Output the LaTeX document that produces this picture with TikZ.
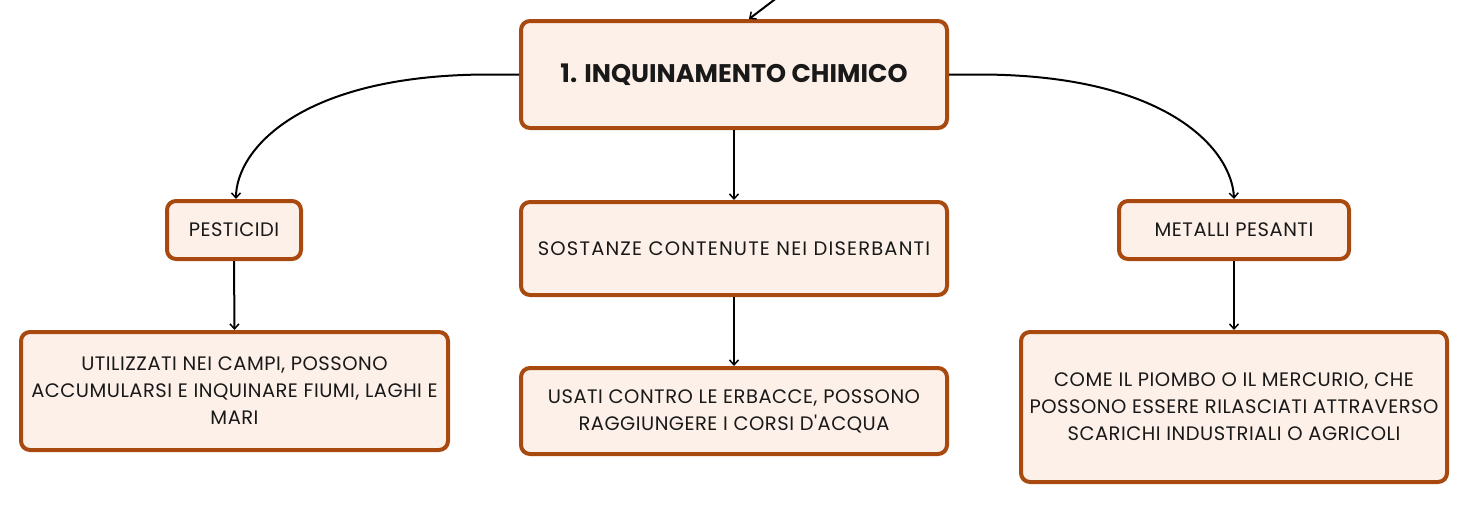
\documentclass[tikz,border=0pt]{standalone}
\usepackage{fontspec}
\setmainfont{Poppins}[Ligatures=TeXOff]
\usetikzlibrary{arrows.meta}
\definecolor{brd}{RGB}{168,74,16}
\definecolor{bg}{RGB}{253,240,232}
\tikzset{
  box/.style={draw=brd, fill=bg, line width=4pt, rounded corners=9pt, align=center, inner sep=0pt,
    font=\fontsize{19.5}{27}\selectfont\addfontfeature{LetterSpace=2.5}, text=black!90},
  conn/.style={line width=2pt, -{Straight Barb[length=5pt,width=9pt,line width=1.5pt]}}
}
\begin{document}
\begin{tikzpicture}[x=1pt,y=-1pt]
\useasboundingbox (0,0) rectangle (1470,504);
\node[box, minimum width=426pt, minimum height=107pt, font=\fontsize{25.5}{27}\selectfont\bfseries] (top) at (734,74.5) {1. INQUINAMENTO CHIMICO};
\node[box, minimum width=134pt, minimum height=58pt] (pest) at (234,230) {PESTICIDI};
\node[box, minimum width=426pt, minimum height=93pt, font=\fontsize{19.5}{27}\selectfont\addfontfeature{LetterSpace=6}] (sost) at (734,248.5) {SOSTANZE CONTENUTE NEI DISERBANTI};
\node[box, minimum width=230pt, minimum height=58pt] (metal) at (1234,230) {METALLI PESANTI};
\node[box, minimum width=427pt, minimum height=118pt] (util) at (234.5,391) {UTILIZZATI NEI CAMPI, POSSONO\\ACCUMULARSI E INQUINARE FIUMI, LAGHI E\\MARI};
\node[box, minimum width=426pt, minimum height=86pt] (usati) at (734,411) {USATI CONTRO LE ERBACCE, POSSONO\\RAGGIUNGERE I CORSI D'ACQUA};
\node[box, minimum width=426pt, minimum height=150pt] (come) at (1234,407) {COME IL PIOMBO O IL MERCURIO, CHE\\POSSONO ESSERE RILASCIATI ATTRAVERSO\\SCARICHI INDUSTRIALI O AGRICOLI};
\coordinate (src) at (778,-3);
\draw[conn] (src) -- ([xshift=15pt]top.north);
\draw[conn] (top.west) -- ++(-30,0) .. controls (300,74.5) and (236,150) .. ([xshift=2pt]pest.north);
\draw[conn] (top.east) -- ++(30,0) .. controls (1168,74.5) and (1232,150) .. (metal.north);
\draw[conn] (top.south) -- (sost.north);
\draw[conn] (sost.south) -- (usati.north);
\draw[conn] (pest.south) -- (util.north);
\draw[conn] (metal.south) -- (come.north);
\end{tikzpicture}
\end{document}
